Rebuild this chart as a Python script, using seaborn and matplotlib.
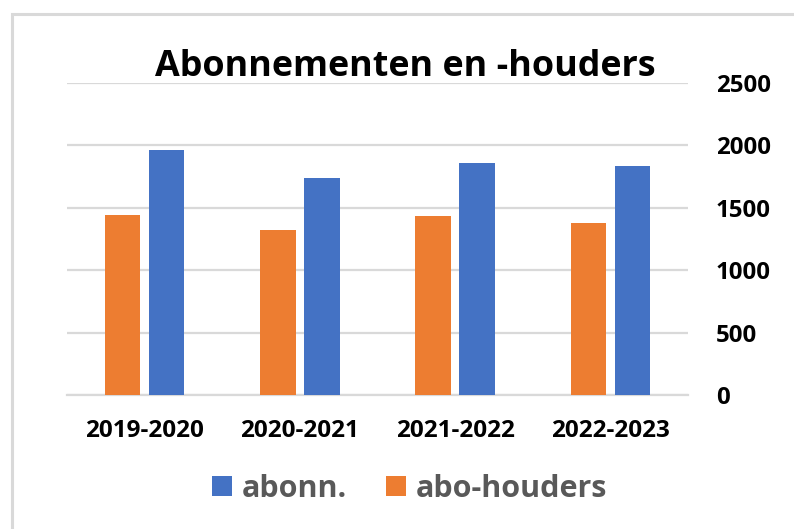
import matplotlib
matplotlib.use("Agg")
import matplotlib.pyplot as plt
import seaborn as sns
import pandas as pd
from matplotlib.patches import Patch, Rectangle

seasons = ["2019-2020", "2020-2021", "2021-2022", "2022-2023"]
abonn = [1963, 1741, 1859, 1835]
abo_houders = [1445, 1320, 1434, 1376]
series_names = ["abonn.", "abo-houders"]
colors = {"abonn.": "#4472C4", "abo-houders": "#ED7D31"}
yticks = [0, 500, 1000, 1500, 2000, 2500]

df = pd.DataFrame({
    "season": seasons * 2,
    "series": ["abonn."] * len(seasons) + ["abo-houders"] * len(seasons),
    "value": abonn + abo_houders,
})

sns.set_theme(style="white")
plt.rcParams["font.family"] = ["Open Sans", "DejaVu Sans"]
plt.rcParams["font.weight"] = "bold"

fig = plt.figure(figsize=(7.94, 5.29), dpi=100)
ax = fig.add_axes([67 / 794, 134 / 529, 621 / 794, 312 / 529])

sns.barplot(data=df, x="season", y="value", hue="series",
            order=seasons, hue_order=["abo-houders", "abonn."],
            palette=colors, saturation=1, width=0.567, gap=0.195,
            linewidth=0, legend=False, ax=ax, zorder=3)

ax.set_ylim(0, 2500)
ax.set_xlim(-0.5, len(seasons) - 0.5)
ax.set_yticks(yticks)
ax.yaxis.tick_right()
ax.yaxis.set_label_position("right")
ax.set_xlabel("")
ax.set_ylabel("")
ax.grid(axis="y", color="#d9d9d9", linewidth=1.6, zorder=0)
ax.grid(axis="x", visible=False)
ax.set_axisbelow(True)
for s in ["top", "right", "left"]:
    ax.spines[s].set_visible(False)
ax.spines["bottom"].set_color("#d9d9d9")
ax.spines["bottom"].set_linewidth(1.6)
ax.tick_params(axis="y", length=0, pad=20, labelsize=17.3, labelcolor="black")
ax.tick_params(axis="x", length=0, pad=17, labelsize=17.5, labelcolor="black")
for lab in ax.get_xticklabels() + ax.get_yticklabels():
    lab.set_fontweight("bold")

fig.text(405 / 794, 1 - 76 / 529, "Abonnementen en -houders",
         ha="center", va="baseline", fontsize=25.8, fontweight="bold",
         color="black")

handles = [Patch(facecolor=colors[n], edgecolor="none") for n in series_names]
leg = fig.legend(handles, series_names, loc="center",
                 bbox_to_anchor=(410 / 794, 1 - 489 / 529), ncol=2,
                 frameon=False, fontsize=22, handlelength=0.64,
                 handleheight=0.64, handletextpad=0.33, columnspacing=1.28,
                 borderpad=0, borderaxespad=0)
for t in leg.get_texts():
    t.set_color("#595959")
    t.set_fontweight("bold")

border = Rectangle((11.5 / 794, -0.1), 1.5, 1 - 13.5 / 529 + 0.1,
                   transform=fig.transFigure, fill=False,
                   edgecolor="#d9d9d9", linewidth=2.2, clip_on=False)
fig.patches.append(border)

fig.savefig("out.png", dpi=100)
